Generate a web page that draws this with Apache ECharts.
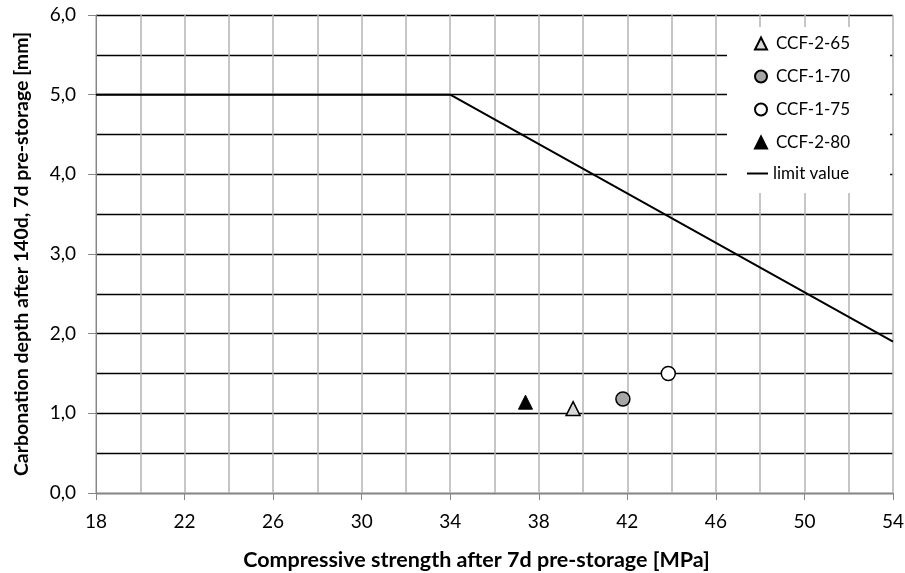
<!DOCTYPE html>
<html>
<head>
<meta charset="utf-8">
<script src="https://cdn.jsdelivr.net/npm/echarts@6/dist/echarts.min.js"></script>
<style>
  html, body { margin: 0; padding: 0; background: #fff; }
  #chart { width: 905px; height: 573px; }
</style>
</head>
<body>
<div id="chart"></div>
<script>
// measured points [compressive strength, carbonation depth]
let ccf265 = [[39.55, 1.06]];
let ccf170 = [[41.8, 1.18]];
let ccf175 = [[43.85, 1.5]];
let ccf280 = [[37.4, 1.14]];
// limit value curve
let limitX = [18, 34, 54];
let limitY = [5.0, 5.0, 1.9];

let chart = echarts.init(document.getElementById('chart'));
let font = 'Lato, "Open Sans", sans-serif';

let limitData = [];
for (let i = 0; i < limitX.length; i++) {
	limitData.push([limitX[i], limitY[i]]);
}

let option = {
	animation: false,
	textStyle: { fontFamily: font },
	grid: { left: 96, right: 12, top: 15, bottom: 80, outerBoundsMode: 'none' },
	legend: [{
		// markers
		orient: 'vertical',
		left: 727,
		top: 27,
		padding: [8, 40, 42, 27],
		backgroundColor: '#fff',
		itemWidth: 12,
		itemHeight: 12,
		itemGap: 16,
		textStyle: { fontFamily: font, fontSize: 17, color: '#000', padding: [0, 0, 0, 4] },
		data: ['CCF-2-65', 'CCF-1-70', 'CCF-1-75', 'CCF-2-80']
	}, {
		// limit line
		orient: 'vertical',
		left: 747,
		top: 165,
		padding: 0,
		itemWidth: 21,
		itemHeight: 2,
		itemGap: 0,
		icon: 'rect',
		textStyle: { fontFamily: font, fontSize: 17, color: '#000' },
		data: ['limit value']
	}],
	xAxis: {
		type: 'value',
		min: 18,
		max: 54,
		interval: 4,
		name: 'Compressive strength after 7d pre-storage [MPa]',
		nameLocation: 'middle',
		nameGap: 56,
		nameTextStyle: { fontFamily: font, fontSize: 21.5, fontWeight: 'bold', color: '#000', padding: [0, 36, 0, 0] },
		axisLine: { onZero: false, lineStyle: { color: '#868686', width: 1 } },
		axisTick: { show: true, length: 7, lineStyle: { color: '#868686' } },
		axisLabel: { fontFamily: font, fontSize: 19, color: '#000', margin: 19 },
		splitLine: { show: true, lineStyle: { color: '#b4b4b4', width: 1.5 } },
		minorTick: { show: false, splitNumber: 2 },
		minorSplitLine: { show: true, lineStyle: { color: '#b4b4b4', width: 1.5 } }
	},
	yAxis: {
		type: 'value',
		min: 0,
		max: 6,
		interval: 1,
		minorTick: { show: false, splitNumber: 2 },
		name: 'Carbonation depth after 140d, 7d pre-storage [mm]',
		nameLocation: 'middle',
		nameGap: 64,
		nameTextStyle: { fontFamily: font, fontSize: 19.5, fontWeight: 'bold', color: '#000' },
		axisLine: { show: true, lineStyle: { color: '#868686', width: 1 } },
		axisTick: { show: true, length: 8, lineStyle: { color: '#868686' } },
		axisLabel: {
			fontFamily: font, fontSize: 19, color: '#000', margin: 20,
			formatter: v => v.toFixed(1).replace('.', ',')
		},
		splitLine: { show: true, lineStyle: { color: '#000', width: 1.3 } },
		minorSplitLine: { show: true, lineStyle: { color: '#000', width: 1.3 } }
	},
	series: [
		{
			name: 'limit value',
			type: 'line',
			data: limitData,
			symbol: 'none',
			lineStyle: { color: '#000', width: 2 },
			itemStyle: { color: '#000' },
			z: 3
		},
		{
			name: 'CCF-2-65',
			type: 'scatter',
			data: ccf265,
			symbol: 'triangle',
			symbolSize: 14,
			itemStyle: { color: '#d9d9d9', borderColor: '#000', borderWidth: 1.5, opacity: 1 },
			z: 4
		},
		{
			name: 'CCF-1-70',
			type: 'scatter',
			data: ccf170,
			symbol: 'circle',
			symbolSize: 14,
			itemStyle: { color: '#a6a6a6', borderColor: '#000', borderWidth: 1.5, opacity: 1 },
			z: 4
		},
		{
			name: 'CCF-1-75',
			type: 'scatter',
			data: ccf175,
			symbol: 'circle',
			symbolSize: 14,
			itemStyle: { color: '#fff', borderColor: '#000', borderWidth: 1.5, opacity: 1 },
			z: 4
		},
		{
			name: 'CCF-2-80',
			type: 'scatter',
			data: ccf280,
			symbol: 'triangle',
			symbolSize: 14,
			itemStyle: { color: '#000', borderColor: '#000', borderWidth: 1, opacity: 1 },
			z: 4
		}
	]
};
chart.setOption(option);
</script>
</body>
</html>
